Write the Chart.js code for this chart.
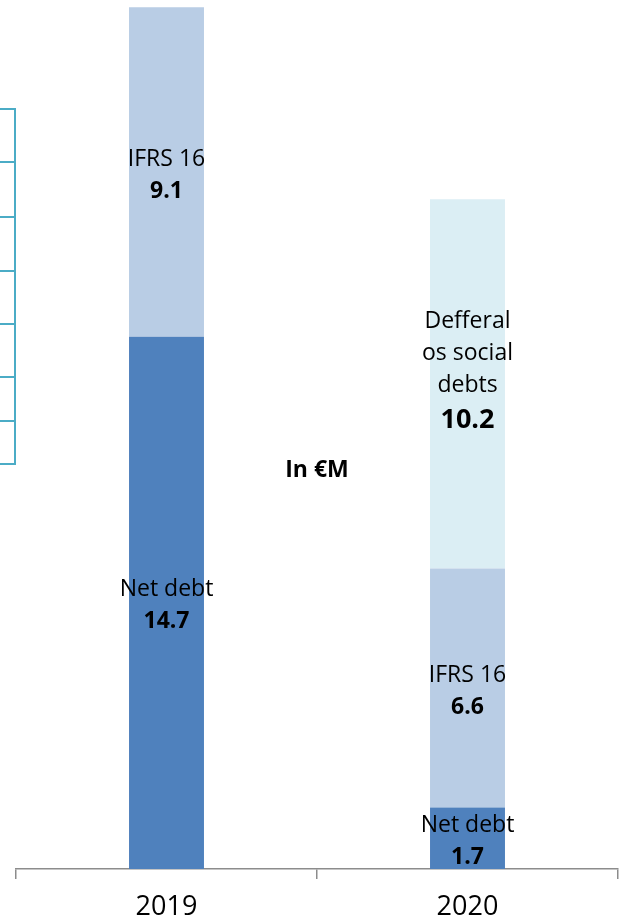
<!DOCTYPE html>
<html>
<head>
<meta charset="utf-8">
<script src="https://cdn.jsdelivr.net/npm/chart.js@4"></script>
<style>
  html, body { margin: 0; padding: 0; background: #ffffff; }
  #wrap { position: relative; width: 619px; height: 920px; }
</style>
</head>
<body>
<div id="wrap"><canvas id="debtChart"></canvas></div>
<script>
// --- data (in €M) ---
const years = ["2019", "2020"];
const netDebt = [14.7, 1.7];
const ifrs16 = [9.1, 6.6];
const socialDeferral = [null, 10.2];

// segment captions, one array of text lines per series
const netDebtCaption = ["Net debt"];
const ifrsCaption = ["IFRS 16"];
const deferralCaption = ["Defferal", "os social", "debts"];

const FONT = "'Open Sans', 'Noto Sans', sans-serif";

// caption + bold value centred in every stacked segment
const segmentLabels = {
  id: "segmentLabels",
  afterDatasetsDraw(chart) {
    const ctx = chart.ctx;
    ctx.save();
    ctx.fillStyle = "#000";
    ctx.textAlign = "center";
    ctx.textBaseline = "middle";
    chart.data.datasets.forEach((ds, di) => {
      const meta = chart.getDatasetMeta(di);
      meta.data.forEach((bar, i) => {
        const v = ds.data[i];
        if (v == null) return;
        const lines = ds.caption.map(t => ({ text: t, font: "23px " + FONT, h: 32 }));
        const vs = ds.valueSize || 23;
        lines.push({ text: v.toFixed(1), font: "bold " + vs + "px " + FONT, h: 32 + (vs - 23) * 1.5 });
        const total = lines.reduce((s, l) => s + l.h, 0);
        let y = (bar.y + bar.base) / 2 - total / 2 + 3 + (ds.labelShift || 0);
        lines.forEach(l => {
          ctx.font = l.font;
          ctx.fillText(l.text, bar.x, y + l.h / 2);
          y += l.h;
        });
      });
    });
    // unit note between the two bars
    const area = chart.chartArea;
    ctx.font = "bold 23px " + FONT;
    ctx.fillText("In €M", (area.left + area.right) / 2, 470);
    ctx.restore();
  }
};

// right edge of a framed table sitting at the left border
const sideFrame = {
  id: "sideFrame",
  beforeDraw(chart) {
    const ctx = chart.ctx;
    const rows = [109, 162, 217, 271, 324, 377, 421, 464];
    ctx.save();
    ctx.strokeStyle = "#4bacc6";
    ctx.lineWidth = 2;
    ctx.beginPath();
    ctx.moveTo(15, rows[0]);
    ctx.lineTo(15, rows[rows.length - 1]);
    rows.forEach(r => {
      ctx.moveTo(0, r);
      ctx.lineTo(16, r);
    });
    ctx.stroke();
    ctx.restore();
  }
};

new Chart(document.getElementById("debtChart"), {
  type: "bar",
  data: {
    labels: years,
    datasets: [
      { label: "Net debt", data: netDebt, backgroundColor: "#4f81bd", caption: netDebtCaption },
      { label: "IFRS 16", data: ifrs16, backgroundColor: "#b9cde5", caption: ifrsCaption },
      { label: "Defferal os social debts", data: socialDeferral, backgroundColor: "#dbeef4",
        caption: deferralCaption, valueSize: 27, labelShift: -14 },
    ],
  },
  options: {
    responsive: true,
    maintainAspectRatio: false,
    animation: false,
    layout: { padding: { left: 16, right: 1, top: 0, bottom: 0 } },
    datasets: { bar: { categoryPercentage: 1, barPercentage: 0.249 } },
    scales: {
      x: {
        stacked: true,
        offset: true,
        afterFit(scale) { scale.height = 51; },
        border: { display: true, color: "#8c8c8c", width: 1.5 },
        grid: { offset: true, drawOnChartArea: false, drawTicks: true, tickLength: 10, color: "#8c8c8c", lineWidth: 1.5 },
        ticks: { color: "#000", padding: 12, font: { family: FONT, size: 27 } },
      },
      y: { stacked: true, display: false, min: 0, max: 24 },
    },
    plugins: { legend: { display: false }, tooltip: { enabled: false } },
  },
  plugins: [sideFrame, segmentLabels],
});
</script>
</body>
</html>
